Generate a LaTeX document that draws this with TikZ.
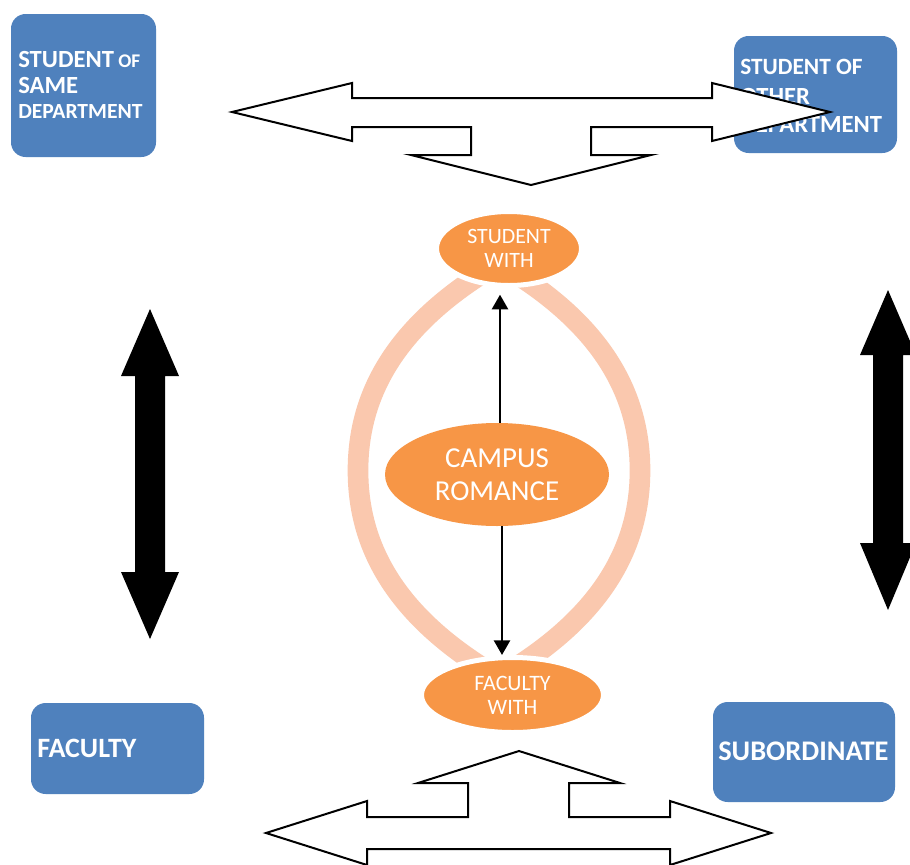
\documentclass[tikz,border=0pt]{standalone}
\usepackage{fontspec}
\setmainfont{Carlito}
\usetikzlibrary{shapes.geometric,arrows.meta,calc}
\definecolor{boxblue}{HTML}{4F81BD}
\definecolor{ovalorange}{HTML}{F79646}
\definecolor{ringpeach}{HTML}{FAC8AE}
\begin{document}
\begin{tikzpicture}[x=0.75pt,y=-0.75pt,
  bluebox/.style={fill=boxblue, rounded corners=11pt, inner sep=0pt},
  boxtext/.style={text=white, font=\bfseries, anchor=base west, inner sep=0pt},
  blockarrow/.style={draw=black, fill=white, line width=1.5pt, line join=miter},
  solidarrow/.style={fill=black},
  ring/.style={draw=ringpeach, line width=15.5pt},
  oval/.style={ellipse, fill=ovalorange, text=white, align=center, inner sep=0pt},
  halo/.style={draw=white, line width=3.75pt},
  conn/.style={draw=black, line width=1.9pt, -{Triangle[width=12pt,length=11pt]}}
]
\useasboundingbox (0,0) rectangle (910,864);
\fill[white] (0,0) rectangle (910,864);

% blue boxes
\node[bluebox, minimum width=108.75pt, minimum height=107.25pt] (tl) at (83.5,85.5) {};
\node[bluebox, minimum width=122.25pt, minimum height=87.75pt] (tr) at (815.5,94.5) {};
\node[bluebox, minimum width=129.75pt, minimum height=68.25pt] (fac) at (117.5,748.5) {};
\node[bluebox, minimum width=136.5pt, minimum height=75pt] (sub) at (804,752) {};

\node[boxtext, font=\bfseries\fontsize{18.5}{18.5}\selectfont] (tl1) at (18,67) {STUDENT{\fontsize{14.5}{14.5}\selectfont\ OF}};
\node[boxtext, font=\bfseries\fontsize{18.5}{18.5}\selectfont] (tl2) at (18,93) {SAME};
\node[boxtext, font=\bfseries\fontsize{16.2}{16.2}\selectfont] (tl3) at (18,118) {DEPARTMENT};

\node[boxtext, font=\bfseries\fontsize{17.5}{17.5}\selectfont] (tr1) at (740,74) {STUDENT OF};
\node[boxtext, font=\bfseries\fontsize{18.5}{18.5}\selectfont] (tr2) at (740,104) {OTHER};
\node[boxtext, font=\bfseries\fontsize{18.5}{18.5}\selectfont] (tr3) at (740,132) {DEPARTMENT};

\node[boxtext, font=\bfseries\fontsize{21}{21}\selectfont] (fac1) at (37,757) {FACULTY};
\node[boxtext, font=\bfseries\fontsize{21.3}{21.3}\selectfont] (sub1) at (718,760) {SUBORDINATE};

% outline block arrows
\draw[blockarrow] (232,112) -- (352,83) -- (352,98) -- (712,98) -- (712,83) -- (830,112)
  -- (712,141) -- (712,127) -- (591,127) -- (591,155) -- (651,155) -- (531,185)
  -- (411,155) -- (471,155) -- (471,127) -- (352,127) -- (352,141) -- cycle;
\draw[blockarrow] (519,751) -- (620,783) -- (569,783) -- (569,817) -- (670,817) -- (670,801)
  -- (771,833) -- (670,865) -- (670,849) -- (367,849) -- (367,865) -- (266,833)
  -- (367,801) -- (367,817) -- (468,817) -- (468,783) -- (418,783) -- cycle;

% solid black double arrows
\fill[solidarrow] (150,309) -- (179,376) -- (165,376) -- (165,572) -- (179,572) -- (150,639)
  -- (121,572) -- (135,572) -- (135,376) -- (121,376) -- cycle;
\fill[solidarrow] (888,290) -- (916,355) -- (903,355) -- (903,543) -- (916,543) -- (888,610)
  -- (860,543) -- (873,543) -- (873,355) -- (860,355) -- cycle;

% peach ring arcs
\draw[ring] (480,275) .. controls (395,330) and (358,395) .. (358,470.5)
  .. controls (358,546) and (395,611) .. (480,666);
\draw[ring] (518,275) .. controls (603,330) and (640,395) .. (640,470.5)
  .. controls (640,546) and (603,611) .. (518,666);

% orange ovals
\node[oval, halo, minimum width=108.75pt, minimum height=55.5pt,
  font=\fontsize{16.4}{18}\selectfont] (stud) at (509,248.5) {STUDENT\\WITH};
\node[oval, minimum width=168pt, minimum height=77.25pt,
  font=\fontsize{21.7}{24.5}\selectfont] (campus) at (497,474.5) {CAMPUS\\ROMANCE};
\node[oval, halo, minimum width=136.5pt, minimum height=56.25pt,
  font=\fontsize{16.5}{18}\selectfont] (facw) at (512.5,695) {FACULTY\\WITH};

% connectors
\draw[conn, shorten >=5pt] ([xshift=2.25pt]campus.north) -- ([xshift=2.25pt]campus.north |- stud.south);
\draw[conn] ([xshift=3.75pt]campus.south) -- ([xshift=3.75pt]campus.south |- facw.north);
\end{tikzpicture}
\end{document}
